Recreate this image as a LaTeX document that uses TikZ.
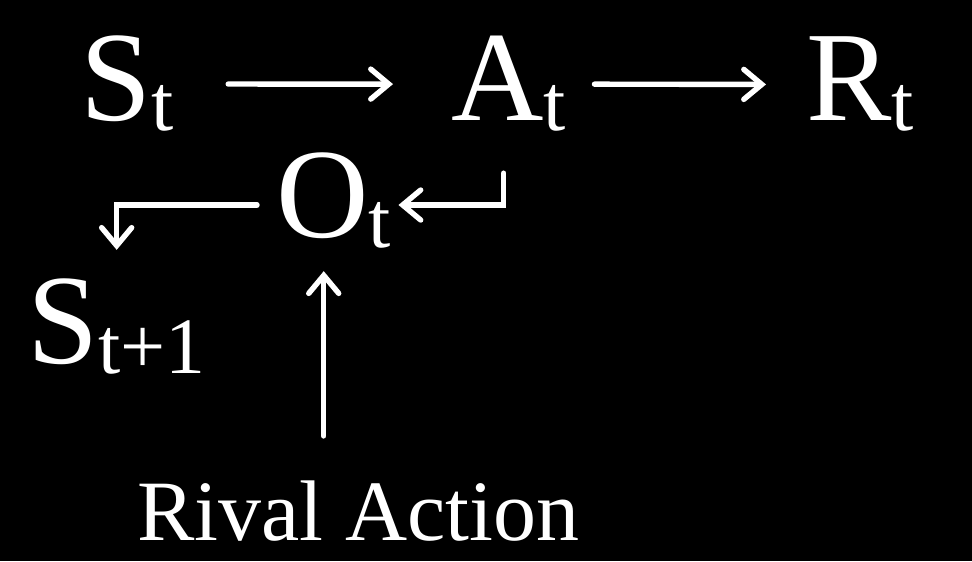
\documentclass[tikz,border=0pt]{standalone}
\usepackage{fontspec}
\setmainfont{Liberation Serif}
\usetikzlibrary{arrows.meta}
\newcommand{\lowsub}[1]{\raisebox{-5pt}{\fontsize{40}{40}\selectfont #1}}

\begin{document}
\begin{tikzpicture}[x=0.5pt,y=-0.5pt,
  every node/.style={text=white,inner sep=0pt,anchor=base west,
    font=\fontsize{64}{64}\selectfont},
  flow/.style={draw=white,line width=2.7pt,line cap=round,line join=miter,
    -{Straight Barb[length=9pt,width=15pt,line cap=round]}}]
  \fill[black] (0,0) rectangle (972,561);
  % states, action, reward
  \node (st) at (80,121) {S\lowsub{t}};
  \node (at) at (451,121) {A\lowsub{t}};
  \node (rt) at (806,121) {R\lowsub{t}};
  \node (ot) at (276,237) {O\lowsub{t}};
  \node (snext) at (27,363) {S\lowsub{t+1}};
  \node[font=\fontsize{43}{43}\selectfont] (rival) at (137,540) {Rival Action};
  % connectors
  \draw[flow,shorten <=27pt,shorten >=29pt] (st.east) -- (at.west);
  \draw[flow,shorten <=14pt,shorten >=20pt] (at.east) -- (rt.west);
  \draw[flow,shorten >=3.5pt] ([shift={(-5,41)}]at.south) |- ([yshift=-2.5pt]ot.east);
  \draw[flow,shorten <=9.5pt,shorten >=14pt] ([yshift=-2.5pt]ot.west) -| (snext.north);
  \draw[flow,shorten <=22pt,shorten >=11.5pt]
    ([xshift=-5pt]ot.south |- rival.north) -- ([xshift=-5pt]ot.south);
\end{tikzpicture}
\end{document}
